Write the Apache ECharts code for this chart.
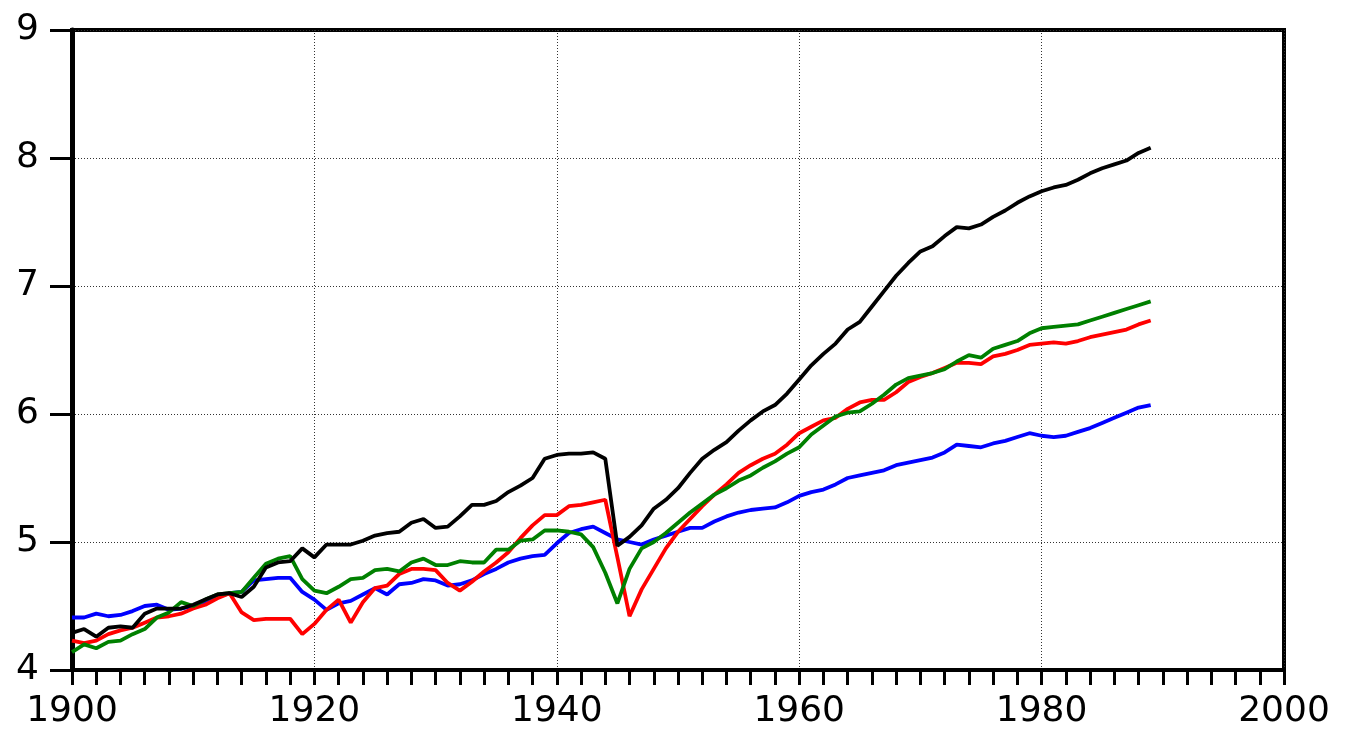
<!DOCTYPE html>
<html>
<head>
<meta charset="utf-8">
<script src="https://cdn.jsdelivr.net/npm/echarts@6/dist/echarts.min.js"></script>
<style>html,body{margin:0;padding:0;background:#fff;}#c{width:1359px;height:731px;}</style>
</head>
<body>
<div id="c"></div>
<script>
const startYear = 1900;
const endYear = 2000;
const blackSeries = [4.29,4.32,4.26,4.33,4.34,4.33,4.44,4.48,4.48,4.48,4.51,4.55,4.59,4.60,4.57,4.65,4.80,4.84,4.85,4.95,4.88,4.98,4.98,4.98,5.01,5.05,5.07,5.08,5.15,5.18,5.11,5.12,5.20,5.29,5.29,5.32,5.39,5.44,5.50,5.65,5.68,5.69,5.69,5.70,5.65,4.97,5.04,5.13,5.26,5.33,5.42,5.54,5.65,5.72,5.78,5.87,5.95,6.02,6.07,6.16,6.27,6.38,6.47,6.55,6.66,6.72,6.84,6.96,7.08,7.18,7.27,7.31,7.39,7.46,7.45,7.48,7.54,7.59,7.65,7.70,7.74,7.77,7.79,7.83,7.88,7.92,7.95,7.98,8.04,8.08];
const redSeries = [4.23,4.21,4.23,4.28,4.31,4.33,4.37,4.41,4.42,4.44,4.48,4.51,4.56,4.60,4.45,4.39,4.40,4.40,4.40,4.28,4.36,4.47,4.55,4.37,4.53,4.64,4.66,4.75,4.79,4.79,4.78,4.68,4.62,4.69,4.77,4.84,4.92,5.03,5.13,5.21,5.21,5.28,5.29,5.31,5.33,4.88,4.42,4.63,4.79,4.95,5.08,5.18,5.28,5.37,5.45,5.54,5.60,5.65,5.69,5.76,5.85,5.90,5.95,5.97,6.04,6.09,6.11,6.11,6.17,6.25,6.29,6.32,6.36,6.40,6.40,6.39,6.45,6.47,6.50,6.54,6.55,6.56,6.55,6.57,6.60,6.62,6.64,6.66,6.70,6.73];
const greenSeries = [4.14,4.20,4.17,4.22,4.23,4.28,4.32,4.41,4.45,4.53,4.50,4.55,4.59,4.60,4.61,4.72,4.83,4.87,4.89,4.71,4.62,4.60,4.65,4.71,4.72,4.78,4.79,4.77,4.84,4.87,4.82,4.82,4.85,4.84,4.84,4.94,4.94,5.01,5.02,5.09,5.09,5.08,5.06,4.96,4.76,4.52,4.79,4.95,5.00,5.07,5.15,5.23,5.30,5.37,5.42,5.48,5.52,5.58,5.63,5.69,5.74,5.84,5.91,5.98,6.01,6.02,6.08,6.15,6.23,6.28,6.30,6.32,6.35,6.41,6.46,6.44,6.51,6.54,6.57,6.63,6.67,6.68,6.69,6.70,6.73,6.76,6.79,6.82,6.85,6.88];
const blueSeries = [4.41,4.41,4.44,4.42,4.43,4.46,4.50,4.51,4.47,4.48,4.50,4.53,4.57,4.60,4.61,4.70,4.71,4.72,4.72,4.61,4.55,4.47,4.52,4.54,4.59,4.64,4.59,4.67,4.68,4.71,4.70,4.66,4.67,4.70,4.75,4.79,4.84,4.87,4.89,4.90,4.99,5.07,5.10,5.12,5.07,5.02,5.00,4.98,5.02,5.05,5.08,5.11,5.11,5.16,5.20,5.23,5.25,5.26,5.27,5.31,5.36,5.39,5.41,5.45,5.50,5.52,5.54,5.56,5.60,5.62,5.64,5.66,5.70,5.76,5.75,5.74,5.77,5.79,5.82,5.85,5.83,5.82,5.83,5.86,5.89,5.93,5.97,6.01,6.05,6.07];
const xLabelStep = 20;
const xTickStep = 2;
const yTicks = [4, 9, 1];

const categories = [];
for (let y = startYear; y <= endYear; y++) categories.push(String(y));

const chart = echarts.init(document.getElementById('c'), null, {renderer: 'canvas'});
const FONT = 'DejaVu Sans';
const gridLineStyle = {color: '#333', width: 1, type: [1, 2]};
const every = step => (idx, val) => (Number(val) - startYear) % step === 0;
const mk = (name, data, color) => ({
  name, type: 'line', data: data, symbol: 'none', smooth: false,
  lineStyle: {color, width: 3.8}, itemStyle: {color}, z: 3
});
chart.setOption({
  animation: false,
  backgroundColor: '#fff',
  grid: {left: 72, right: 75, top: 30, bottom: 61, show: true, borderColor: '#000', borderWidth: 4, containLabel: false},
  xAxis: {
    type: 'category', data: categories, boundaryGap: false, position: 'bottom',
    axisLine: {show: true, lineStyle: {color: '#000', width: 4}},
    axisTick: {show: true, length: 15, interval: every(xTickStep), lineStyle: {color: '#000', width: 3}},
    axisLabel: {color: '#000', fontFamily: FONT, fontSize: 36, margin: 24, interval: every(xLabelStep)},
    splitLine: {show: true, interval: every(xLabelStep), lineStyle: gridLineStyle}
  },
  yAxis: {
    type: 'value', min: yTicks[0], max: yTicks[1], interval: yTicks[2], position: 'left',
    axisLine: {show: true, lineStyle: {color: '#000', width: 5}},
    axisTick: {show: true, length: 22, lineStyle: {color: '#000', width: 3}},
    axisLabel: {color: '#000', fontFamily: FONT, fontSize: 36, margin: 33, formatter: v => String(v)},
    splitLine: {show: true, lineStyle: gridLineStyle}
  },
  series: [
    mk('blue', blueSeries, '#0000ff'),
    mk('red', redSeries, '#ff0000'),
    mk('green', greenSeries, '#008000'),
    mk('black', blackSeries, '#000000')
  ]
});
</script>
</body>
</html>
